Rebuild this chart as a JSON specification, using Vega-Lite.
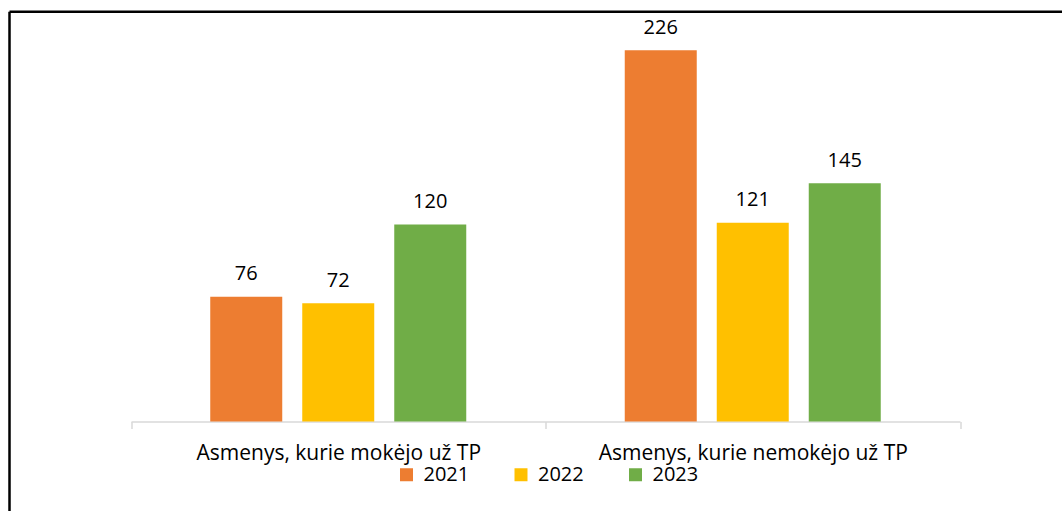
{
  "$schema": "https://vega.github.io/schema/vega-lite/v6.json",
  "width": 1052.5,
  "height": 499.25,
  "autosize": {"type": "none"},
  "padding": {"left": 9.5, "top": 11.75, "right": 0, "bottom": 0},
  "background": "#ffffff",
  "config": {
    "view": {"stroke": "#000000", "strokeWidth": 2.5, "strokeDash": [1052.5, 1551.75, 499.25, 0]},
    "font": "Open Sans"
  },
  "data": {
    "values": [
      {"cat": "Asmenys, kurie mokėjo už TP", "year": "2021", "value": 76},
      {"cat": "Asmenys, kurie mokėjo už TP", "year": "2022", "value": 72},
      {"cat": "Asmenys, kurie mokėjo už TP", "year": "2023", "value": 120},
      {"cat": "Asmenys, kurie nemokėjo už TP", "year": "2021", "value": 226},
      {"cat": "Asmenys, kurie nemokėjo už TP", "year": "2022", "value": 121},
      {"cat": "Asmenys, kurie nemokėjo už TP", "year": "2023", "value": 145}
    ]
  },
  "encoding": {
    "x": {
      "field": "cat",
      "type": "nominal",
      "sort": null,
      "scale": {"range": [121.5, 950.5], "paddingInner": 0, "paddingOuter": 0},
      "axis": {
        "title": null,
        "domainColor": "#d9d9d9",
        "domainWidth": 1.5,
        "tickColor": "#d9d9d9",
        "tickWidth": 1.5,
        "tickSize": 7,
        "tickBand": "extent",
        "labelFontSize": 21,
        "labelFont": "Open Sans",
        "labelColor": "#000000",
        "labelPadding": 30.5,
        "labelBaseline": "alphabetic",
        "labelAngle": 0,
        "labelLimit": 600,
        "offset": -89.5,
        "grid": false
      }
    },
    "xOffset": {
      "field": "year",
      "type": "nominal",
      "scale": {"paddingInner": 0.2174, "paddingOuter": 0.8614}
    },
    "y": {
      "field": "value",
      "type": "quantitative",
      "scale": {"domain": [-54.5, 249.5], "nice": false, "zero": false},
      "axis": null
    }
  },
  "layer": [
    {
      "mark": {"type": "bar"},
      "encoding": {
        "color": {
          "field": "year",
          "type": "nominal",
          "scale": {"domain": ["2021", "2022", "2023"], "range": ["#ED7D31", "#FFC000", "#70AD47"]},
          "legend": {
            "orient": "none",
            "legendX": 387,
            "legendY": 453,
            "direction": "horizontal",
            "title": null,
            "symbolType": "square",
            "symbolSize": 169,
            "symbolStrokeWidth": 0,
            "symbolOpacity": 1,
            "labelFontSize": 20,
            "labelFont": "Open Sans",
            "labelColor": "#000000",
            "labelOffset": 7,
            "columnPadding": 41.5,
            "padding": 0
          }
        }
      }
    },
    {
      "mark": {"type": "text", "dy": -16.5, "baseline": "alphabetic", "fontSize": 20, "font": "Open Sans", "color": "#000000"},
      "encoding": {"text": {"field": "value", "type": "quantitative"}}
    }
  ]
}
